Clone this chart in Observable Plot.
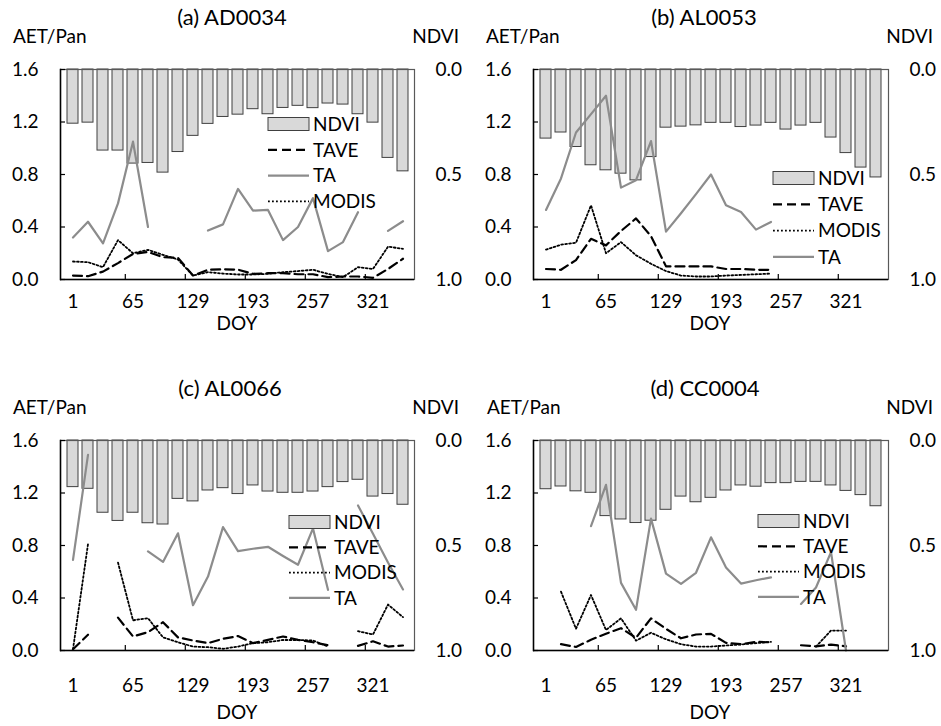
<!DOCTYPE html>
<html><head><meta charset="utf-8">
<script src="https://cdn.jsdelivr.net/npm/d3@7"></script>
<script src="https://cdn.jsdelivr.net/npm/@observablehq/plot@0.6"></script>
<style>
body{margin:0;background:#fff;}
#wrap{position:relative;width:941px;height:726px;overflow:hidden;background:#fff;}
.panel{position:absolute;}
</style></head><body><div id="wrap"></div>
<script>
// ---- data ----
const doy = [1,17,33,49,65,81,97,113,129,145,161,177,193,209,225,241,257,273,289,305,321,337,353];
const xTickLabels = [1,65,129,193,257,321];
const leftTicks = [0,0.4,0.8,1.2,1.6];
const ndviTicks = [0,0.5,1.0];
const titles = ["(a) AD0034","(b) AL0053","(c) AL0066","(d) CC0004"];

const ndviA = [0.258,0.253,0.386,0.386,0.448,0.445,0.491,0.393,0.316,0.259,0.226,0.215,0.189,0.213,0.183,0.173,0.184,0.162,0.167,0.213,0.253,0.421,0.485];
const taveA = [0.03,0.025,0.06,0.125,0.195,0.21,0.17,0.165,0.03,0.074,0.078,0.075,0.043,0.048,0.048,0.04,0.04,0.018,0.023,0.023,0.013,0.08,0.158];
const taA   = [0.32,0.44,0.275,0.58,1.05,0.40,null,null,null,0.373,0.42,0.69,0.525,0.53,0.30,0.40,0.62,0.216,0.285,0.513,null,0.37,0.444];
const modisA= [0.137,0.132,0.094,0.30,0.20,0.226,0.188,0.152,0.03,0.056,0.045,0.038,0.038,0.043,0.056,0.064,0.074,0.043,0.018,0.094,0.08,0.25,0.234];

const ndviB = [0.329,0.30,0.369,0.456,0.48,0.496,0.528,0.417,0.277,0.272,0.266,0.254,0.254,0.274,0.267,0.254,0.286,0.267,0.254,0.324,0.398,0.467,0.514];
const taveB = [0.08,0.074,0.148,0.31,0.26,0.37,0.465,0.33,0.10,0.10,0.10,0.10,0.08,0.08,0.074,0.074,null,null,null,null,null,null,null];
const taB   = [0.53,0.77,1.12,1.26,1.40,0.70,0.757,1.055,0.365,0.505,0.65,0.80,0.565,0.514,0.38,0.438,null,null,null,null,null,null,null];
const modisB= [0.228,0.265,0.28,0.565,0.20,0.285,0.185,0.12,0.064,0.03,0.023,0.023,0.03,0.035,0.04,0.045,null,null,null,null,null,null,null];

const ndviC = [0.222,0.23,0.344,0.383,0.344,0.394,0.40,0.278,0.29,0.238,0.227,0.255,0.214,0.243,0.249,0.249,0.243,0.222,0.198,0.187,0.267,0.255,0.306];
const taveC = [0.01,0.12,null,0.25,0.107,0.14,0.216,0.10,0.076,0.056,0.089,0.11,0.056,0.081,0.107,0.081,0.063,0.04,null,0.035,0.07,0.03,0.038];
const taC   = [0.69,1.49,null,null,null,0.755,0.675,0.893,0.345,0.563,0.94,0.757,0.775,0.79,0.72,0.653,0.93,0.462,null,1.105,0.89,0.67,0.465];
const modisC= [0.01,0.81,null,0.67,0.23,0.246,0.10,0.063,0.03,0.025,0.013,0.03,0.056,0.063,0.08,0.08,0.076,0.03,null,0.147,0.122,0.35,0.254];

const ndviD = [0.232,0.219,0.242,0.249,0.36,0.376,0.393,0.382,0.33,0.267,0.294,0.273,0.238,0.214,0.22,0.203,0.203,0.197,0.197,0.214,0.24,0.26,0.313];
const taveD = [null,0.048,0.027,0.082,0.128,0.17,0.097,0.245,0.165,0.093,0.122,0.127,0.058,0.048,0.066,0.062,null,0.04,0.032,0.045,0.032,null,null];
const taD   = [null,null,null,0.947,1.262,0.515,0.31,1.005,0.586,0.507,0.592,0.862,0.632,0.51,0.535,0.557,null,0.355,0.48,0.75,0.0,null,null];
const modisD= [null,0.448,0.166,0.423,0.156,0.245,0.075,0.135,0.085,0.048,0.03,0.03,0.038,0.046,0.056,0.066,null,null,0.03,0.152,0.152,null,null];

// ---- layout / style ----
const FONT = "Lato, 'Open Sans', sans-serif";
const FS = 19;
const W = 471, H = 355, MT = 69, MB = 76;
const YTOP = 1.6;
const sty = {
  TAVE: {stroke:"#000", strokeWidth:2.2, strokeDasharray:"9,5"},
  TA: {stroke:"#8c8c8c", strokeWidth:2.2},
  MODIS: {stroke:"#000", strokeWidth:1.8, strokeDasharray:"1.8,2.2"}
};
const panels = [
  {left:0, top:0, mL:60, mR:57, ndvi:ndviA, tave:taveA, ta:taA, modis:modisA,
   order:["NDVI","TAVE","TA","MODIS"], lx:268, ly:124, ldy:25.8,
   titleX:232, aetX:13, ndviX:459, doyX:237, doyY:330, xPad:15},
  {left:470, top:0, mL:63, mR:53, ndvi:ndviB, tave:taveB, ta:taB, modis:modisB,
   order:["NDVI","TAVE","MODIS","TA"], lx:303, ly:178, ldy:26.3,
   titleX:234, aetX:16, ndviX:463, doyX:240, doyY:330, xPad:15},
  {left:0, top:371, mL:60, mR:57, ndvi:ndviC, tave:taveC, ta:taC, modis:modisC,
   order:["NDVI","TAVE","MODIS","TA"], lx:289, ly:151, ldy:25.3,
   titleX:230, aetX:13, ndviX:459, doyX:237, doyY:348, xPad:28},
  {left:470, top:371, mL:63, mR:53, ndvi:ndviD, tave:taveD, ta:taD, modis:modisD,
   order:["NDVI","TAVE","MODIS","TA"], lx:288, ly:150, ldy:25.3,
   titleX:235, aetX:17, ndviX:463, doyX:240, doyY:348, xPad:28}
];

const wrap = document.getElementById("wrap");

panels.forEach((p, pi) => {
  const rows = doy.map((d, i) => ({doy:d, ndvi:p.ndvi[i], tave:p.tave[i], ta:p.ta[i], modis:p.modis[i]}));
  const plotW = W - p.mL - p.mR;
  const step = plotW / doy.length;
  const plotH = H - MT - MB;
  const svg = Plot.plot({
    width: W, height: H,
    marginLeft: p.mL, marginRight: p.mR, marginTop: MT, marginBottom: MB,
    style: {fontFamily: FONT, fontSize: FS + "px", color: "#000", background: "transparent", overflow: "visible"},
    x: {type: "band", domain: doy, paddingInner: 0.28, paddingOuter: 0.14, axis: null},
    y: {domain: [0, YTOP], axis: null},
    marks: [
      Plot.barY(rows, {x: "doy", y1: () => YTOP, y2: d => YTOP * (1 - d.ndvi), fill: "#d9d9d9", stroke: "#404040", strokeWidth: 1}),
      Plot.line(rows, {x: "doy", y: "tave", ...sty.TAVE}),
      Plot.line(rows, {x: "doy", y: "modis", ...sty.MODIS}),
      Plot.line(rows, {x: "doy", y: "ta", ...sty.TA}),
      Plot.frame({stroke: "#595959", strokeWidth: 1.2}),
      Plot.ruleY([0], {stroke: "#000", strokeWidth: 1.5}),
      Plot.frame({anchor: "left", stroke: "#000", strokeWidth: 1.5}),
      Plot.tickY(leftTicks, {y: d => d, insetRight: plotW - 5, stroke: "#000", strokeWidth: 1.2}),
      Plot.ruleX(xTickLabels.slice(1), {x: d => d, y1: 0, y2: 5 * YTOP / plotH, dx: -step / 2, stroke: "#000", strokeWidth: 1.2}),
      Plot.axisY({anchor: "left", ticks: leftTicks, tickFormat: d => d.toFixed(1), tickSize: 0, tickPadding: 22, label: null, fontSize: FS}),
      Plot.axisY({anchor: "right", ticks: ndviTicks.map(v => YTOP * (1 - v)), tickFormat: t => (1 - t / YTOP).toFixed(1), tickSize: 0, tickPadding: 21, label: null, fontSize: FS}),
      Plot.axisX({ticks: xTickLabels, tickSize: 0, tickPadding: p.xPad, label: null, fontSize: FS})
    ]
  });
  const s = d3.select(svg);
  const tg = s.append("g").attr("font-family", FONT).attr("font-size", FS).attr("fill", "#000");
  tg.append("text").attr("x", p.titleX).attr("y", 25).attr("text-anchor", "middle").attr("font-size", 22).text(titles[pi]);
  tg.append("text").attr("x", p.aetX).attr("y", 43).attr("text-anchor", "start").text("AET/Pan");
  tg.append("text").attr("x", p.ndviX).attr("y", 43).attr("text-anchor", "end").text("NDVI");
  tg.append("text").attr("x", p.doyX).attr("y", p.doyY).attr("text-anchor", "middle").text("DOY");
  // legend
  const lg = s.append("g").attr("font-family", FONT).attr("font-size", FS).attr("text-anchor", "start");
  p.order.forEach((name, k) => {
    const cy = p.ly + k * p.ldy;
    const x0 = p.lx, x1 = p.lx + 41;
    if (name === "NDVI") {
      lg.append("rect").attr("x", x0).attr("y", cy - 6.5).attr("width", 41).attr("height", 13)
        .attr("fill", "#d9d9d9").attr("stroke", "#404040").attr("stroke-width", 1);
    } else {
      const st = sty[name];
      lg.append("line").attr("x1", x0).attr("x2", x1).attr("y1", cy).attr("y2", cy)
        .attr("stroke", st.stroke).attr("stroke-width", st.strokeWidth)
        .attr("stroke-dasharray", st.strokeDasharray || null);
    }
    lg.append("text").attr("x", x1 + 4).attr("y", cy).attr("dy", "0.36em").attr("fill", "#000")
      .attr("text-anchor", "start").text(name);
  });
  const div = document.createElement("div");
  div.className = "panel";
  div.style.left = p.left + "px";
  div.style.top = p.top + "px";
  div.appendChild(svg);
  wrap.appendChild(div);
});
</script>
</body></html>
